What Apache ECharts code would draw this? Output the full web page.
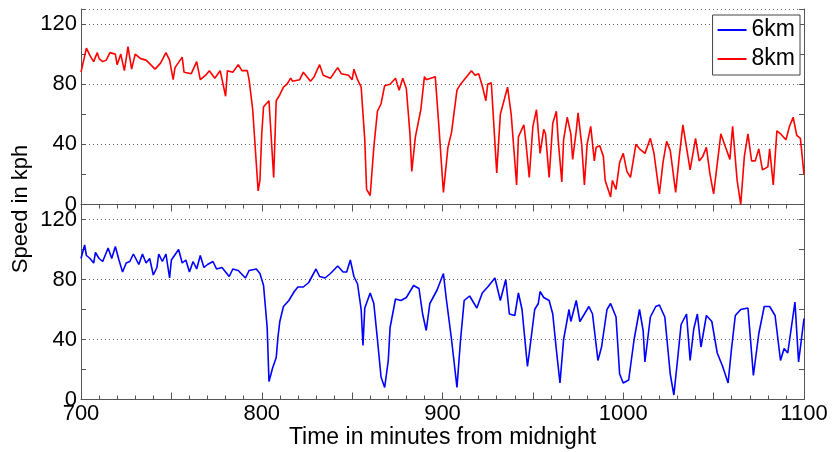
<!DOCTYPE html>
<html>
<head>
<meta charset="utf-8">
<script src="https://cdn.jsdelivr.net/npm/echarts@6/dist/echarts.min.js"></script>
<style>
    html, body { margin: 0; padding: 0; background: #fff; }
    #speed-chart { width: 832px; height: 452px; }
</style>
</head>
<body>
<div id="speed-chart"></div>
<script>
    // [minute, kph]
    var speed8km = [
        [700,88],[703,104],[705,99],[707,95],[709,101],[710,97],[712,95],[714,96],[716,101],[719,100],
        [720,93],[722,100],[724,89],[726,105],[728,90],[730,100],[733,97],[736,96],[741,90],[744,94],
        [747,101],[749,96],[751,83],[752,91],[756,98],[757,88],[761,87],[764,95],[766,83],[769,86],
        [771,89],[774,84],[777,89],[780,72],[781,89],[784,88],[787,93],[789,89],[792,89],[793,83],
        [795,63],[798,9],[799,16],[800,47],[801,65],[804,69],[805,69],[806.6,18],[808,69],[810,73],
        [812,78],[814,80],[816,84],[817,82],[821,83],[823,88],[827,82],[829,85],[832,93],[834,86],
        [838,84],[842,91],[844,87],[848,86],[850,83],[851,90],[853,83],[855,78],[857,43],[858,10],
        [860,6],[862,38],[864,62],[866,67],[868,79],[871,80],[874,84],[876,76],[878,84],[880,77],
        [882,47],[883,22],[885,45],[888,63],[890,85],[891,83],[896,85],[898,52],[900.5,8],[903,38],
        [905,48],[908,76],[910,80],[912,83],[916,89],[918,86],[920,87],[922,79],[924,69],[925,80],
        [927,81],[930,21],[932,60],[936,78],[938,60],[941,13],[942,45],[945,53],[946,43],[948,18],
        [950,52],[952,63],[954,34],[956,50],[957,47],[959,18],[961,54],[963,62],[964,43],[966,15],
        [967,43],[969,58],[971,47],[972,30],[974,49],[975,61],[977,40],[978.5,13],[980,40],[982,52],
        [984,29],[985,38],[987,39],[989,32],[990,16],[993,5],[994,16],[996,10],[998,28],[1000,34],
        [1002,22],[1004,18],[1007,40],[1009,37],[1012,34],[1015,44],[1017,34],[1020,7],[1022,28],[1024,42],
        [1026,36],[1029,8],[1031,32],[1033,53],[1035,38],[1037,23],[1040,44],[1042,29],[1044,32],[1046,38],
        [1048,20],[1050,7],[1052,27],[1054,47],[1056,40],[1059,30],[1060.5,52],[1063,16],[1065,0],[1067,32],
        [1069,47],[1071,29],[1073,29],[1075,37],[1077,23],[1080,25],[1081,37],[1083,13],[1085,49],[1087,47],
        [1090,43],[1092,52],[1094,58],[1096,46],[1098,44],[1100,20]
    ];

    var speed6km = [
        [700,94],[702,103],[703,96],[705,94],[707,91],[708,98],[710,94],[712,92],[715,101],[717,94],
        [719,102],[721,93],[723,85],[725,91],[727,92],[729,97],[732,90],[734,97],[736,91],[738,94],
        [740,83],[742,88],[743,97],[745,92],[747,97],[749,81],[750,93],[754,100],[756,91],[758,93],
        [760,85],[762,92],[764,87],[766,96],[768,88],[770,90],[773,92],[775,87],[778,88],[782,82],
        [784,87],[787,86],[791,81],[793,86],[797,87],[799,84],[801,76],[803,48],[804,12],[806,21],
        [808,28],[809,42],[810,52],[812,62],[815,66],[818,72],[820,75],[823,75],[826,78],[830,87],
        [832,82],[835,81],[838,84],[842,89],[845,85],[847,85],[849,93],[851,82],[853,77],[855,60],
        [856,36],[857,61],[860,71],[862,64],[864,40],[866,15],[868,8],[870,26],[871,48],[874,67],
        [877,66],[880,68],[884,76],[887,74],[889,57],[891,46],[893,64],[897,73],[900.5,84],[902,68],
        [905,40],[908,8],[910,40],[912,66],[915,69],[919,61],[922,71],[925,75],[929,81],[932,66],
        [935,80],[937,57],[940,56],[942,71],[944,60],[947,22],[948,31],[951,60],[953,64],[954,72],
        [956,68],[959,66],[961,57],[963,33],[965,11],[967,40],[970,60],[971,52],[974,66],[976,52],
        [979,58],[981,62],[983,57],[986,26],[988,35],[991,60],[993,64],[996,55],[998,17],[1000,11],
        [1003,13],[1006,40],[1009,60],[1011,46],[1012,25],[1015,55],[1018,62],[1020,63],[1023,55],[1026,17],
        [1028,3],[1030,26],[1032,50],[1035,57],[1037,26],[1039,47],[1041,57],[1043,35],[1046,56],[1049,52],
        [1052,31],[1055,22],[1058,11],[1060,35],[1062,56],[1065,60],[1069,61],[1072,16],[1075,44],[1078,62],
        [1081,62],[1084,56],[1087,26],[1089,34],[1091,31],[1095,65],[1097,25],[1100,54]
    ];

    var xLabels = [700, 800, 900, 1000, 1100];
    var yLabels = [0, 40, 80, 120];

    var font = "'Liberation Sans', Arial, sans-serif";
    var axisColor = '#555';

    function timeAxis(grid, pos, withLabels) {
        return {
            type: 'value', gridIndex: grid, position: pos,
            min: 700, max: 1100, interval: 50,
            axisLine: { show: true, lineStyle: { color: axisColor, width: 1 } },
            axisTick: { show: true, inside: true, length: 7, lineStyle: { color: axisColor } },
            minorTick: { show: true, splitNumber: 5, length: 4, lineStyle: { color: axisColor } },
            splitLine: { show: false },
            axisLabel: {
                show: withLabels, color: '#000', fontSize: 22, fontFamily: font, margin: 3,
                formatter: function (v) { return xLabels.indexOf(v) >= 0 ? String(v) : ''; }
            },
            name: withLabels ? 'Time in minutes from midnight' : '',
            nameLocation: 'middle', nameGap: 27,
            nameTextStyle: { color: '#000', fontSize: 23, fontFamily: font }
        };
    }

    function speedAxis(grid, pos, withLabels) {
        return {
            type: 'value', gridIndex: grid, position: pos,
            min: 0, max: 130, interval: 40,
            axisLine: { show: true, lineStyle: { color: axisColor, width: 1 } },
            axisTick: { show: true, inside: true, length: 5, lineStyle: { color: axisColor } },
            minorTick: { show: true, splitNumber: 2, length: 5, lineStyle: { color: axisColor } },
            splitLine: {
                show: withLabels,
                lineStyle: { color: '#666', type: [1, 3], width: 1 }
            },
            axisLabel: {
                show: withLabels, color: '#000', fontSize: 22, fontFamily: font, margin: 4,
                formatter: function (v) { return yLabels.indexOf(v) >= 0 ? String(v) : ''; }
            }
        };
    }

    var chart = echarts.init(document.getElementById('speed-chart'), null, { renderer: 'canvas' });

    chart.setOption({
        animation: false,
        backgroundColor: '#fff',
        grid: [
            { left: 81, right: 28, top: 9, height: 195.5 },
            { left: 81, right: 28, top: 204.5, height: 195 }
        ],
        xAxis: [
            timeAxis(0, 'top', false),
            timeAxis(1, 'bottom', true)
        ],
        yAxis: [
            speedAxis(0, 'left', true),
            speedAxis(0, 'right', false),
            speedAxis(1, 'left', true),
            speedAxis(1, 'right', false)
        ],
        legend: {
            orient: 'vertical',
            right: 32, top: 15,
            data: ['6km', '8km'],
            icon: 'rect',
            itemWidth: 29, itemHeight: 2, itemGap: 5,
            padding: [3, 5, 4, 5],
            backgroundColor: '#fff',
            borderColor: '#444', borderWidth: 1, borderRadius: 0,
            textStyle: { color: '#000', fontSize: 23, fontFamily: font, lineHeight: 24 }
        },
        graphic: [{
            type: 'text',
            x: 21, y: 209,
            rotation: Math.PI / 2,
            style: {
                text: 'Speed in kph', fill: '#000',
                font: '22px ' + font,
                textAlign: 'center', textVerticalAlign: 'middle'
            }
        }],
        series: [
            {
                name: '6km', type: 'line', xAxisIndex: 1, yAxisIndex: 2,
                data: speed6km, showSymbol: false, symbol: 'none',
                itemStyle: { color: '#0000ff' },
                lineStyle: { color: '#0000ff', width: 1.6 }
            },
            {
                name: '8km', type: 'line', xAxisIndex: 0, yAxisIndex: 0,
                data: speed8km, showSymbol: false, symbol: 'none',
                itemStyle: { color: '#ff0000' },
                lineStyle: { color: '#ff0000', width: 1.6 }
            }
        ]
    });
</script>
</body>
</html>
